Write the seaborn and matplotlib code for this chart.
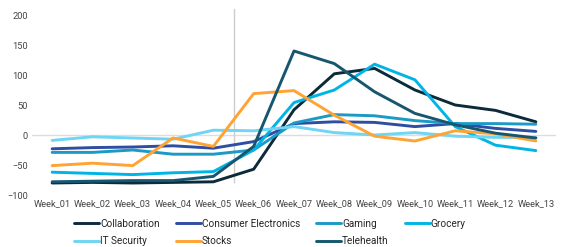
import numpy as np
import pandas as pd
import matplotlib
matplotlib.use("Agg")
import matplotlib.pyplot as plt
import seaborn as sns

weeks = [f"Week_{i:02d}" for i in range(1, 14)]
collaboration = [-80, -79, -80, -79, -78, -57, 42, 102, 111, 75, 50, 41, 22]
consumer_electronics = [-23, -21, -20, -18, -22, -11, 19, 22, 21, 14, 19, 11, 6]
gaming = [-29, -29, -25, -32, -32, -25, 20, 34, 32, 24, 19, 19, 18]
grocery = [-62, -64, -66, -63, -61, -25, 54, 75, 118, 92, 14, -17, -26]
it_security = [-9, -3, -5, -7, 8, 7, 14, 4, 0, 4, -2, -4, -4]
stocks = [-51, -47, -51, -5, -19, 69, 74, 33, -2, -10, 7, 2, -10]
telehealth = [-78, -77, -76, -76, -69, -19, 140, 119, 72, 36, 17, 3, -5]

series_names = ["Collaboration", "Consumer Electronics", "Gaming", "Grocery",
                "IT Security", "Stocks", "Telehealth"]
series_values = [collaboration, consumer_electronics, gaming, grocery,
                 it_security, stocks, telehealth]
colors = ["#0b2a3a", "#2e4ea3", "#1b9ac6", "#00b4e6", "#6fd5f3", "#ffa433", "#17566e"]

rows = []
for name, vals in zip(series_names, series_values):
    for w, v in zip(weeks, vals):
        rows.append({"week": w, "value": v, "series": name})
df = pd.DataFrame(rows)

sns.set_theme(style="white")
plt.rcParams['font.family'] = ['Roboto', 'DejaVu Sans']

fig = plt.figure(figsize=(5.66, 2.47), dpi=100)
ax = fig.add_axes([32/566, 1 - 195/247, (556-32)/566, (195-9)/247])

ax.axhline(0, color="#dddddd", lw=1, zorder=0)
ax.vlines(4.5, -80, 213, color="#cccccc", lw=1, zorder=0)

sns.lineplot(data=df, x="week", y="value", hue="series", palette=colors,
             hue_order=series_names, sort=False, lw=2.1, ax=ax, legend=True)

ax.set_xlim(-0.5, 12.5)
ax.set_ylim(-100, 210)
ax.set_yticks([-100, -50, 0, 50, 100, 150, 200])
ax.set_xlabel("")
ax.set_ylabel("")
for s in ax.spines.values():
    s.set_visible(False)
ax.tick_params(axis="both", length=0, labelsize=6.7, labelcolor="#444444", pad=3)
ax.tick_params(axis="y", pad=3)

handles, labels = ax.get_legend_handles_labels()
lookup = dict(zip(labels, handles))
order = ["Collaboration", "IT Security", "Consumer Electronics", "Stocks",
         "Gaming", "Telehealth", "Grocery"]
ax.legend([lookup[o] for o in order], order, ncol=4, loc="upper center",
          bbox_to_anchor=(0.454, -0.105), frameon=False, fontsize=7.2,
          handlelength=2.5, handletextpad=0.1, columnspacing=1.6,
          labelspacing=0.75, borderaxespad=0)

fig.savefig("out.png", dpi=100)
